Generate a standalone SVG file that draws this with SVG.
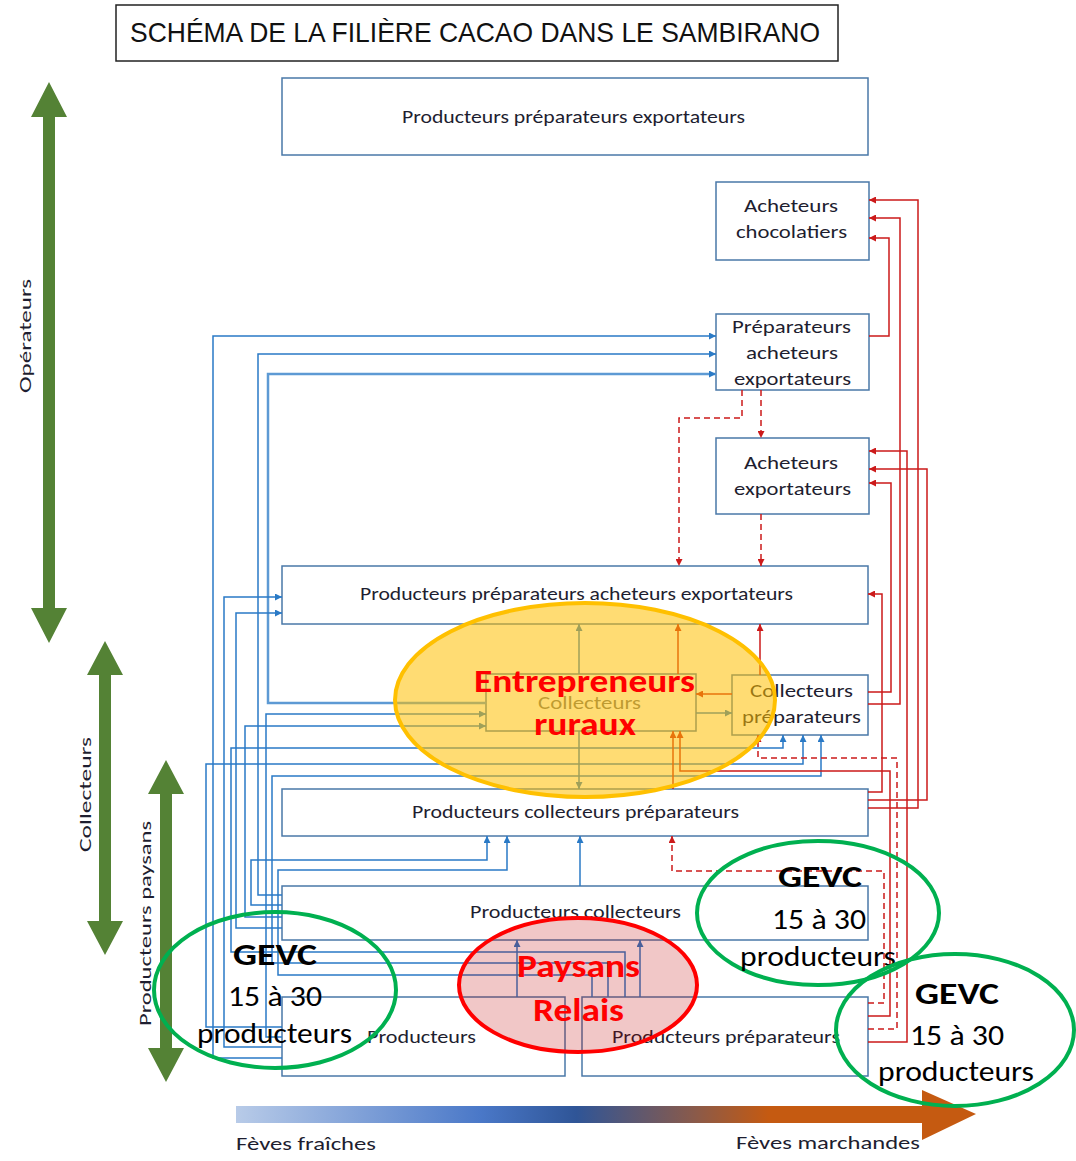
<svg xmlns="http://www.w3.org/2000/svg" width="1076" height="1161" viewBox="0 0 1076 1161">
  <style>
    .box { fill: #ffffff; stroke: #4a78a8; stroke-width: 1.5; }
    .bt { font-family: Carlito, Lato, "Liberation Sans", sans-serif; font-size: 18px; fill: #1e1e30; }
    .title { font-family: "Liberation Sans", Arial, sans-serif; font-size: 28px; fill: #111111; }
    .side { font-family: Carlito, Lato, "Liberation Sans", sans-serif; font-size: 17px; fill: #1e1e30; }
    .bl { fill: none; stroke: #2a7ac6; stroke-width: 1.5; marker-end: url(#ab); }
    .rl { fill: none; stroke: #cc1a1a; stroke-width: 1.5; marker-end: url(#ar); }
    .rd { fill: none; stroke: #cc1a1a; stroke-width: 1.5; stroke-dasharray: 6 4; marker-end: url(#ar); }
    .big { font-family: Carlito, Lato, "Liberation Sans", sans-serif; font-weight: bold; font-size: 32px; fill: #ff0000; }
    .gevc { font-family: Carlito, Lato, "Liberation Sans", sans-serif; font-weight: bold; font-size: 31px; fill: #000000; }
    .gtx { font-family: Carlito, Lato, "Liberation Sans", sans-serif; font-size: 28px; fill: #000000; }
    .gring { fill: none; stroke: #00b050; stroke-width: 4; }
    .garrow { fill: #548235; }
  </style>
  <defs>
    <marker id="ab" viewBox="0 0 10 10" refX="10" refY="5" markerWidth="7" markerHeight="7" markerUnits="userSpaceOnUse" orient="auto">
      <path d="M0,0 L10,5 L0,10 z" fill="#2a7ac6"/>
    </marker>
    <marker id="ar" viewBox="0 0 10 10" refX="10" refY="5" markerWidth="7" markerHeight="7" markerUnits="userSpaceOnUse" orient="auto">
      <path d="M0,0 L10,5 L0,10 z" fill="#cc1a1a"/>
    </marker>
    <linearGradient id="beans" x1="236" y1="0" x2="976" y2="0" gradientUnits="userSpaceOnUse">
      <stop offset="0" stop-color="#b8cbe8"/>
      <stop offset="0.33" stop-color="#4a78c8"/>
      <stop offset="0.46" stop-color="#2f5597"/>
      <stop offset="0.62" stop-color="#8a5a4a"/>
      <stop offset="0.72" stop-color="#c55a11"/>
      <stop offset="1" stop-color="#c55a11"/>
    </linearGradient>
  </defs>

  <rect width="1076" height="1161" fill="#ffffff"/>

  <!-- title -->
  <g id="title">
    <rect x="116" y="5" width="722" height="56" fill="#ffffff" stroke="#222222" stroke-width="1.5"/>
    <text class="title" x="130" y="42" textLength="690" lengthAdjust="spacingAndGlyphs">SCHÉMA DE LA FILIÈRE  CACAO DANS LE SAMBIRANO</text>
  </g>

  <!-- actor ranges on the left -->
  <g id="range-operateurs">
    <polygon class="garrow" points="49,82 67,117 55,117 55,608 67,608 49,643 31,608 43,608 43,117 31,117"/>
    <text class="side" transform="translate(31,393) rotate(-90)" textLength="114" lengthAdjust="spacingAndGlyphs">Opérateurs</text>
  </g>
  <g id="range-collecteurs">
    <polygon class="garrow" points="105,641 123,675 111,675 111,921 123,921 105,955 87,921 99,921 99,675 87,675"/>
    <text class="side" transform="translate(91,852) rotate(-90)" textLength="115" lengthAdjust="spacingAndGlyphs">Collecteurs</text>
  </g>
  <g id="range-paysans">
    <polygon class="garrow" points="166,760 184,794 172,794 172,1048 184,1048 166,1082 148,1048 160,1048 160,794 148,794"/>
    <text class="side" transform="translate(151,1026) rotate(-90)" textLength="205" lengthAdjust="spacingAndGlyphs">Producteurs paysans</text>
  </g>

  <!-- nodes -->
  <g id="producteurs-preparateurs-exportateurs">
    <rect class="box" x="282" y="78" width="586" height="77"/>
    <text class="bt" x="402" y="123" textLength="343" lengthAdjust="spacingAndGlyphs">Producteurs préparateurs exportateurs</text>
  </g>
  <g id="acheteurs-chocolatiers">
    <rect class="box" x="716" y="182" width="153" height="78"/>
    <text class="bt" x="744" y="212" textLength="94" lengthAdjust="spacingAndGlyphs">Acheteurs</text>
    <text class="bt" x="736" y="238" textLength="111" lengthAdjust="spacingAndGlyphs">chocolatiers</text>
  </g>
  <g id="preparateurs-acheteurs-exportateurs">
    <rect class="box" x="716" y="314" width="153" height="76"/>
    <text class="bt" x="732" y="333" textLength="119" lengthAdjust="spacingAndGlyphs">Préparateurs</text>
    <text class="bt" x="746" y="359" textLength="92" lengthAdjust="spacingAndGlyphs">acheteurs</text>
    <text class="bt" x="734" y="385" textLength="117" lengthAdjust="spacingAndGlyphs">exportateurs</text>
  </g>
  <g id="acheteurs-exportateurs">
    <rect class="box" x="716" y="438" width="153" height="76"/>
    <text class="bt" x="744" y="469" textLength="94" lengthAdjust="spacingAndGlyphs">Acheteurs</text>
    <text class="bt" x="734" y="495" textLength="117" lengthAdjust="spacingAndGlyphs">exportateurs</text>
  </g>
  <g id="producteurs-preparateurs-acheteurs-exportateurs">
    <rect class="box" x="282" y="566" width="586" height="58"/>
    <text class="bt" x="360" y="600" textLength="433" lengthAdjust="spacingAndGlyphs">Producteurs préparateurs acheteurs exportateurs</text>
  </g>
  <g id="collecteurs">
    <rect class="box" x="486" y="674" width="210" height="57"/>
    <text class="bt" x="538" y="709" textLength="103" lengthAdjust="spacingAndGlyphs" style="fill:#707070">Collecteurs</text>
  </g>
  <g id="collecteurs-preparateurs">
    <rect class="box" x="732" y="675" width="136" height="60"/>
    <text class="bt" x="750" y="697" textLength="103" lengthAdjust="spacingAndGlyphs">Collecteurs</text>
    <text class="bt" x="742" y="723" textLength="119" lengthAdjust="spacingAndGlyphs">préparateurs</text>
  </g>
  <g id="producteurs-collecteurs-preparateurs">
    <rect class="box" x="282" y="789" width="586" height="47"/>
    <text class="bt" x="412" y="818" textLength="327" lengthAdjust="spacingAndGlyphs">Producteurs collecteurs préparateurs</text>
  </g>
  <g id="producteurs-collecteurs">
    <rect class="box" x="282" y="886" width="586" height="54"/>
    <text class="bt" x="470" y="918" textLength="211" lengthAdjust="spacingAndGlyphs">Producteurs collecteurs</text>
  </g>
  <g id="producteurs">
    <rect class="box" x="282" y="997" width="283" height="79"/>
    <text class="bt" x="367" y="1043" textLength="109" lengthAdjust="spacingAndGlyphs">Producteurs</text>
  </g>
  <g id="producteurs-preparateurs">
    <rect class="box" x="582" y="997" width="286" height="79"/>
    <text class="bt" x="612" y="1043" textLength="228" lengthAdjust="spacingAndGlyphs">Producteurs préparateurs</text>
  </g>

  <!-- flows: blue for fresh beans, red for market beans, dashed for occasional -->
  <g id="connectors">
    <path class="bl" d="M282,1058 H213 V336 H716"/>
    <path class="bl" d="M282,895 H258 V354 H716"/>
    <path class="bl" d="M486,703 H268 V374 H716" style="stroke-width:2.5;stroke:#5d9ad4"/>
    <path class="bl" d="M282,1047 H224 V597 H282"/>
    <path class="bl" d="M282,928 H236 V613 H282"/>
    <path class="bl" d="M282,1037 H266 V714 H486"/>
    <path class="bl" d="M282,917 H245 V726 H486"/>
    <path class="bl" d="M625,997 V952 H231 V748 H783 V735"/>
    <path class="bl" d="M282,1027 H206 V764 H803 V735"/>
    <path class="bl" d="M608,997 V963 H272 V776 H821 V735"/>
    <path class="bl" d="M282,905 H251 V860 H487 V836"/>
    <path class="bl" d="M592,997 V975 H278 V870 H507 V836"/>
    <path class="bl" d="M517,997 V940"/>
    <path class="bl" d="M640,997 V940"/>
    <path class="bl" d="M580,886 V836"/>
    <path class="bl" d="M579,731 V789"/>
    <path class="bl" d="M579,674 V624"/>
    <path class="bl" d="M696,713 H732"/>

    <path class="rl" d="M869,336 H889 V238 H869"/>
    <path class="rl" d="M868,704 H900 V218 H869"/>
    <path class="rl" d="M868,808 H918 V200 H869"/>
    <path class="rl" d="M868,1042 H907 V451 H869"/>
    <path class="rl" d="M868,800 H927 V469 H869"/>
    <path class="rl" d="M868,692 H891 V483 H869"/>
    <path class="rl" d="M868,792 H882 V594 H868"/>
    <path class="rl" d="M760,675 V624"/>
    <path class="rl" d="M678,674 V624"/>
    <path class="rl" d="M732,694 H696"/>
    <path class="rl" d="M673,789 V731"/>
    <path class="rl" d="M868,1016 H890 V771 H680 V731"/>

    <path class="rd" d="M742,390 V418 H679 V566"/>
    <path class="rd" d="M761,390 V438"/>
    <path class="rd" d="M761,514 V566"/>
    <path class="rd" d="M868,1003 H884 V871 H672 V836"/>
    <path class="rd" d="M868,1029 H897 V758 H758 V735"/>
  </g>

  <!-- highlighted groups (translucent fills let the flows show through) -->
  <g id="entrepreneurs-ruraux">
    <ellipse cx="585" cy="700" rx="190" ry="97" fill="#ffc000" fill-opacity="0.55" stroke="#ffc000" stroke-width="4"/>
    <text class="big" x="474" y="692" textLength="221" lengthAdjust="spacingAndGlyphs">Entrepreneurs</text>
    <text class="big" x="534" y="735" textLength="102" lengthAdjust="spacingAndGlyphs">ruraux</text>
  </g>
  <g id="paysans-relais">
    <ellipse cx="578" cy="985" rx="119" ry="67" fill="#c00000" fill-opacity="0.22" stroke="#ff0000" stroke-width="4"/>
    <text class="big" x="517" y="977" textLength="123" lengthAdjust="spacingAndGlyphs">Paysans</text>
    <text class="big" x="533" y="1021" textLength="91" lengthAdjust="spacingAndGlyphs">Relais</text>
  </g>
  <g id="gevc-1">
    <ellipse class="gring" cx="275" cy="990" rx="121" ry="78"/>
    <text class="gevc" x="233" y="965" textLength="84" lengthAdjust="spacingAndGlyphs">GEVC</text>
    <text class="gtx" x="228" y="1006" textLength="94" lengthAdjust="spacingAndGlyphs">15 à 30</text>
    <text class="gtx" x="197" y="1043" textLength="155" lengthAdjust="spacingAndGlyphs">producteurs</text>
  </g>
  <g id="gevc-2">
    <ellipse class="gring" cx="818" cy="913" rx="121" ry="72"/>
    <text class="gevc" x="778" y="887" textLength="84" lengthAdjust="spacingAndGlyphs">GEVC</text>
    <text class="gtx" x="772" y="929" textLength="94" lengthAdjust="spacingAndGlyphs">15 à 30</text>
    <text class="gtx" x="740" y="966" textLength="156" lengthAdjust="spacingAndGlyphs">producteurs</text>
  </g>

  <!-- bean state axis -->
  <g id="axe-feves">
    <polygon points="236,1106 922,1106 922,1090 976,1114 922,1140 922,1123 236,1123" fill="url(#beans)"/>
    <text class="side" x="236" y="1150" textLength="140" lengthAdjust="spacingAndGlyphs" style="font-size:18px">Fèves fraîches</text>
    <text class="side" x="736" y="1149" textLength="184" lengthAdjust="spacingAndGlyphs" style="font-size:18px">Fèves marchandes</text>
  </g>

  <g id="gevc-3">
    <ellipse class="gring" cx="955" cy="1030" rx="119" ry="76"/>
    <text class="gevc" x="915" y="1004" textLength="84" lengthAdjust="spacingAndGlyphs">GEVC</text>
    <text class="gtx" x="910" y="1045" textLength="94" lengthAdjust="spacingAndGlyphs">15 à 30</text>
    <text class="gtx" x="878" y="1081" textLength="156" lengthAdjust="spacingAndGlyphs">producteurs</text>
  </g>
</svg>
